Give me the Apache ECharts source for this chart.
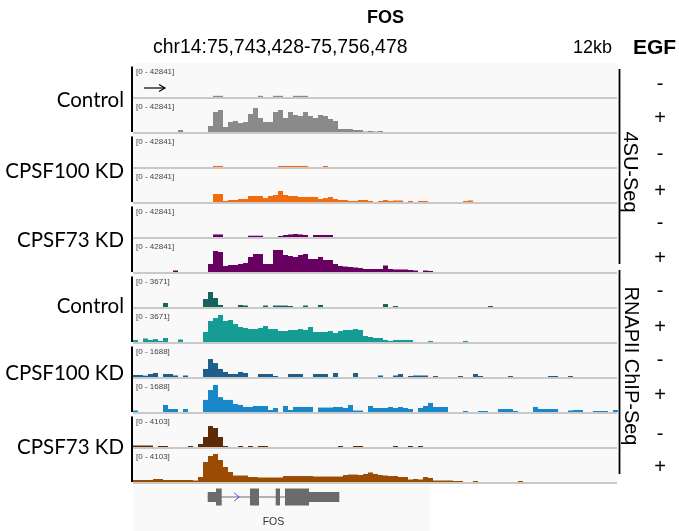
<!DOCTYPE html>
<html><head><meta charset="utf-8">
<script src="https://cdn.jsdelivr.net/npm/echarts@6/dist/echarts.min.js"></script>
<style>html,body{margin:0;padding:0;background:#fff}#c{width:679px;height:531px}</style>
</head><body><div id="c"></div>
<script>
// ---------------- DATA ----------------
const regionLabel = 'chr14:75,743,428-75,756,478';
const regionStart = 75743428, regionEnd = 75756478;
const scaleLabel = '12kb';
const geneName = 'FOS';
const binCount = 97;
const sampleLabels = ['Control', 'CPSF100 KD', 'CPSF73 KD', 'Control', 'CPSF100 KD', 'CPSF73 KD'];
const egfLabels = ['-', '+', '-', '+', '-', '+', '-', '+', '-', '+', '-', '+'];
const assayLabels = ['4SU-Seq', 'RNAPII ChIP-Seq'];
const trackRanges = [42841, 42841, 42841, 42841, 42841, 42841, 3671, 3671, 1688, 1688, 4103, 4103];

const su_ctrl_minus = [
0,0,0,0,0,0,0,0,0,0, 0,0,0,0,0,0,1500,1500,0,0, 0,0,0,0,0,1500,0,0,1500,1500,
0,0,1500,1500,1500,0,0,0,0,0, 0,0,0,0,0,0,0,0,0,0, 0,0,0,0,0,0,0,0,0,0,
0,0,0,0,0,0,0,0,0,0, 0,0,0,0,0,0,0,0,0,0, 0,0,0,0,0,0,0,0,0,0, 0,0,0,0,0,0,0];
const su_ctrl_plus = [
0,0,0,0,0,0,0,0,0,2500, 0,0,0,0,0,7600,25200,27700,6300,12600,
13900,11300,12600,22700,30200,17600,12600,12600,25200,27700,
17600,25200,21400,20200,25200,20200,17600,21400,20200,16400,
13900,3800,3800,3800,2500,2500,600,1300,600,1300,
0,0,0,0,0,0,0,0,0,0, 0,0,0,0,0,0,0,0,0,0, 0,0,0,0,0,0,0,0,0,0, 0,0,0,0,0,0,0,0,0,0, 0,0,0,0,0,0,0];
const su_cpsf100_minus = [
0,0,0,0,0,0,0,0,0,0, 0,0,0,0,0,0,1300,1300,0,0, 0,0,0,0,0,0,0,0,0,1300,
1300,1300,1300,1300,1300,0,0,0,1300,0, 0,0,0,0,0,0,0,0,0,0, 0,0,0,0,0,0,0,0,0,0,
0,0,0,0,0,0,0,0,0,0, 0,0,0,0,0,0,0,0,0,0, 0,0,0,0,0,0,0,0,0,0, 0,0,0,0,0,0,0];
const su_cpsf100_plus = [
0,0,0,0,0,0,0,0,0,0, 0,0,0,0,0,0,10100,10100,1300,2500,
2500,3800,3800,7600,7600,7600,5000,7600,8800,13900,
8800,7600,7600,6300,6300,6300,6300,3800,5000,6300,
3800,2500,2500,1300,1300,2500,2500,1300,0,1300,
2500,1300,1900,1900,0,1300,0,1300,1300,0,
0,0,0,0,0,0,1300,1900,0,0, 0,0,0,0,0,0,0,0,0,0, 0,0,0,0,0,0,0,0,0,0, 0,0,0,0,0,0,0];
const su_cpsf73_minus = [
0,0,0,0,0,0,0,0,0,0, 0,0,0,0,0,0,3200,3200,0,0, 0,0,0,1600,1600,1600,0,0,0,1300,
2500,3200,3800,3200,2500,0,2500,2500,2500,2500, 0,0,0,0,0,0,0,0,0,0, 0,0,0,0,0,0,0,0,0,0,
0,0,0,0,0,0,0,0,0,0, 0,0,0,0,0,0,0,0,0,0, 0,0,0,0,0,0,0,0,0,0, 0,0,0,0,0,0,0];
const su_cpsf73_plus = [
0,0,0,0,0,0,0,0,1900,0, 0,0,0,0,0,10100,26500,25200,7600,8800,
8800,10100,11300,18900,22700,22700,10100,10100,27700,27700,
21400,20200,18900,21400,22700,16400,16400,18900,15100,15100,
10100,7600,6900,6300,5700,5000,3800,3800,3800,3800,
8200,3800,3200,3200,3200,2500,1900,0,1900,1300,
0,0,0,0,0,0,0,0,0,0, 0,0,0,0,0,0,0,0,0,0, 0,0,0,0,0,0,0,0,0,0, 0,0,0,0,0,0,0];
const chip_ctrl_minus = [
0,0,0,0,0,0,430,0,0,0, 0,0,0,0,860,1620,970,220,0,0, 0,220,160,0,0,0,160,0,160,160,
160,110,0,0,160,0,0,220,0,0, 0,0,0,0,0,0,0,0,0,0, 320,0,110,0,0,0,0,0,0,0,
0,0,0,0,0,0,0,0,0,0, 0,110,0,0,0,0,0,0,0,0, 0,0,0,0,0,0,0,0,0,0, 0,0,0,0,0,0,0];
const chip_ctrl_plus = [
220,0,380,220,320,110,430,0,0,270, 0,0,0,0,1080,2270,2590,2920,2270,2380,
1940,1620,1510,1400,1400,1510,1730,1400,1400,1190,
1190,1300,1300,1400,1300,1620,1080,1080,1080,1190,
970,1190,1300,1300,1400,1300,650,540,430,430,
220,110,220,220,220,220,0,0,0,110,
0,0,0,0,0,0,110,0,0,0, 0,0,0,0,0,0,0,0,0,0, 0,0,0,0,0,0,0,0,0,0, 0,0,0,0,0,0,0];
const chip_cpsf100_minus = [
100,100,65,150,200,0,150,150,75,0, 75,0,0,0,400,890,690,400,250,150,
150,250,200,0,0,150,150,150,50,0, 0,150,150,150,0,0,150,150,150,0,
200,0,0,0,200,0,0,0,0,75, 0,0,75,150,0,50,75,75,75,0,
50,0,0,0,0,50,0,0,150,50, 0,0,0,0,0,50,0,0,0,0, 0,0,0,50,50,0,0,50,0,0, 0,0,0,0,0,0,0];
const chip_cpsf100_plus = [
75,0,0,0,0,0,350,150,150,0, 150,0,0,0,600,1090,1340,740,600,600,
400,350,250,250,300,300,300,100,200,0, 300,100,250,250,250,250,0,220,220,220,
250,250,200,350,75,75,0,300,200,200, 200,250,200,250,200,150,0,200,300,450,
250,250,250,0,0,0,50,0,0,50, 50,0,0,150,150,150,50,0,0,0,
250,150,150,150,150,0,0,75,100,100, 0,0,50,50,50,0,100];
const chip_cpsf73_minus = [
180,180,180,180,0,120,120,0,0,0, 0,120,0,360,1210,2530,2290,1210,120,0,
0,120,0,120,0,120,120,0,0,0, 0,0,0,0,0,0,0,0,0,0, 0,120,0,0,120,120,0,0,0,0,
0,0,120,0,0,120,0,120,0,0, 0,0,0,0,0,0,0,0,0,0, 0,0,0,0,0,0,0,0,0,0,
0,0,0,0,0,0,0,0,0,0, 0,0,0,0,0,0,0];
const chip_cpsf73_plus = [
240,240,240,240,360,360,240,240,240,240, 240,240,180,600,2410,3140,3380,2660,1810,1210,
780,780,780,600,600,540,540,540,540,540, 720,720,720,720,720,720,660,660,660,660,
660,660,840,900,900,840,970,1150,970,840, 780,720,720,600,600,300,360,300,600,480,
180,180,180,180,120,120,0,0,120,0, 0,0,0,0,0,0,0,120,0,0,
0,0,0,0,0,0,0,0,0,0, 0,0,0,0,0,0,0];

// gene model blocks: [start, end, isCoding]
const geneBlocks = [
  [75745438, 75745661, 0],
  [75745661, 75745815, 1],
  [75746576, 75746818, 1],
  [75747268, 75747383, 1],
  [75747518, 75748164, 1],
  [75748164, 75748979, 0]
];
const geneSpan = [75745438, 75748979];
const strandMarks = [75746218];

// ---------------- STYLE / LAYOUT ----------------
const tracks = [su_ctrl_minus, su_ctrl_plus, su_cpsf100_minus, su_cpsf100_plus, su_cpsf73_minus, su_cpsf73_plus,
  chip_ctrl_minus, chip_ctrl_plus, chip_cpsf100_minus, chip_cpsf100_plus, chip_cpsf73_minus, chip_cpsf73_plus];
const trackColors = ['#8a8a8a', '#8a8a8a', '#f26b0f', '#f26b0f', '#680062', '#680062',
  '#16635e', '#159c94', '#1d5e8b', '#1a88c8', '#5c2b06', '#9b4b02'];
const FONT = "'Liberation Sans', Arial, sans-serif";
const LABEL_FONT = "Lato, 'Liberation Sans', Arial, sans-serif";
const LEFT = 133, WIDTH = 485, TOP0 = 63, TRACK_H = 35;
const sampleLabelY = [100, 171, 240, 306, 373, 447];
const egfY = [86, 118, 156, 191, 225, 258, 293, 327, 362, 395, 436, 467];

const binLabels = Array.from({length: binCount}, (_, i) =>
  String(Math.round(regionStart + i * (regionEnd - regionStart) / binCount)));

const grids = [], xAxes = [], yAxes = [], series = [], graphics = [];

tracks.forEach((d, i) => {
  const top = TOP0 + TRACK_H * i;
  grids.push({left: LEFT, width: WIDTH, top: top, height: TRACK_H - 1, show: true,
    backgroundColor: '#f9f9f9', borderWidth: 0, containLabel: false});
  xAxes.push({type: 'category', gridIndex: i, data: binLabels, show: false, boundaryGap: true});
  yAxes.push({type: 'value', gridIndex: i, min: 0, max: trackRanges[i], show: false});
  series.push({type: 'bar', xAxisIndex: i, yAxisIndex: i, data: d, barCategoryGap: '0%', barGap: '0%',
    itemStyle: {color: trackColors[i]}, silent: true, animation: false});
  const sep = top + TRACK_H;
  graphics.push({type: 'line', z: 10, shape: {x1: LEFT, y1: sep, x2: LEFT + WIDTH - 1, y2: sep},
    style: {stroke: '#c9c9c9', lineWidth: 2}});
  graphics.push({type: 'text', z: 11, style: {text: '[0 - ' + trackRanges[i] + ']', x: 136, y: sep - 26.5,
    verticalAlign: 'middle', fontSize: 8, fill: '#444', fontFamily: FONT}});
  graphics.push({type: 'text', z: 11, style: {text: egfLabels[i], x: 660, y: egfY[i] - (egfLabels[i] === '-' ? 2 : 0),
    align: 'center', verticalAlign: 'middle', fontSize: 20, fill: '#000', fontFamily: FONT}});
});

// gene track
const G = tracks.length;
grids.push({left: LEFT, width: WIDTH, top: 488, height: 18, show: false});
xAxes.push({type: 'value', gridIndex: G, min: regionStart, max: regionEnd, show: false});
yAxes.push({type: 'value', gridIndex: G, min: 0, max: 1, show: false});
series.push({
  type: 'custom', xAxisIndex: G, yAxisIndex: G, data: [geneSpan], silent: true, animation: false, z: 3,
  renderItem: (p, api) => {
    const s = api.coord([api.value(0), 0.5]), e = api.coord([api.value(1), 0.5]);
    return {type: 'group', children: [
      {type: 'line', shape: {x1: s[0], y1: s[1], x2: e[0], y2: s[1]}, style: {stroke: '#6b6b6b', lineWidth: 1}},
      {type: 'text', style: {text: geneName, x: (s[0] + e[0]) / 2, y: s[1] + 25.5, align: 'center',
        verticalAlign: 'middle', fontSize: 10.5, fill: '#333', fontFamily: FONT}}
    ]};
  }
});
series.push({
  type: 'custom', xAxisIndex: G, yAxisIndex: G, data: geneBlocks, silent: true, animation: false, z: 4,
  renderItem: (p, api) => {
    const s = api.coord([api.value(0), 0.5]), e = api.coord([api.value(1), 0.5]);
    const h = api.value(2) ? 17 : 10;
    return {type: 'rect', shape: {x: s[0], y: s[1] - h / 2, width: e[0] - s[0], height: h}, style: {fill: '#6b6b6b'}};
  }
});
series.push({
  type: 'custom', xAxisIndex: G, yAxisIndex: G, data: strandMarks.map(v => [v]), silent: true, animation: false, z: 5,
  renderItem: (p, api) => {
    const c = api.coord([api.value(0), 0.5]);
    return {type: 'polyline', shape: {points: [[c[0] - 2.5, c[1] - 4], [c[0] + 2.5, c[1]], [c[0] - 2.5, c[1] + 4]]},
      style: {stroke: '#4a4aff', lineWidth: 1, fill: null}};
  }
});

// background of gene track
graphics.push({type: 'rect', z: -1, shape: {x: LEFT, y: 484, width: 297, height: 47}, style: {fill: '#f9f9f9'}});

// left black group bars
for (let g = 0; g < 6; g++) {
  graphics.push({type: 'rect', z: 10, shape: {x: 131, y: 66.5 + 70 * g, width: 2, height: 65.5}, style: {fill: '#000'}});
  graphics.push({type: 'text', z: 11, style: {text: sampleLabels[g], x: 124, y: sampleLabelY[g], align: 'right',
    verticalAlign: 'middle', fontSize: 20.5, fill: '#000', fontFamily: LABEL_FONT}});
}
// right assay brackets
graphics.push({type: 'rect', z: 10, shape: {x: 618.6, y: 69, width: 1.8, height: 195}, style: {fill: '#000'}});
graphics.push({type: 'rect', z: 10, shape: {x: 618.6, y: 270, width: 1.8, height: 204}, style: {fill: '#000'}});
graphics.push({type: 'text', z: 11, x: 630, y: 172, rotation: -Math.PI / 2,
  style: {text: assayLabels[0], x: 0, y: 0, align: 'center', verticalAlign: 'middle', fontSize: 20, fill: '#000', fontFamily: FONT}});
graphics.push({type: 'text', z: 11, x: 631, y: 366, rotation: -Math.PI / 2,
  style: {text: assayLabels[1], x: 0, y: 0, align: 'center', verticalAlign: 'middle', fontSize: 20, fill: '#000', fontFamily: FONT}});

// strand arrow in first track
graphics.push({type: 'line', z: 11, shape: {x1: 144, y1: 88, x2: 165, y2: 88}, style: {stroke: '#000', lineWidth: 1.2}});
graphics.push({type: 'polyline', z: 11, shape: {points: [[159, 84.5], [165, 88], [159, 91.5]]}, style: {stroke: '#000', lineWidth: 1.2, fill: null}});

// header
graphics.push({type: 'text', z: 11, style: {text: geneName, x: 385.5, y: 18, align: 'center', verticalAlign: 'middle',
  fontSize: 18, fontWeight: 'bold', fill: '#000', fontFamily: FONT}});
graphics.push({type: 'text', z: 11, style: {text: regionLabel, x: 153, y: 48, verticalAlign: 'middle',
  fontSize: 19.4, fill: '#000', fontFamily: FONT}});
graphics.push({type: 'text', z: 11, style: {text: scaleLabel, x: 573, y: 48, verticalAlign: 'middle',
  fontSize: 18, fill: '#000', fontFamily: FONT}});
graphics.push({type: 'text', z: 11, style: {text: 'EGF', x: 633, y: 48, verticalAlign: 'middle',
  fontSize: 21, fontWeight: 'bold', fill: '#000', fontFamily: FONT}});

const chart = echarts.init(document.getElementById('c'), null, {renderer: 'canvas', width: 679, height: 531});
chart.setOption({
  animation: false,
  backgroundColor: '#ffffff',
  grid: grids, xAxis: xAxes, yAxis: yAxes, series: series,
  graphic: {elements: graphics}
});
</script></body></html>
